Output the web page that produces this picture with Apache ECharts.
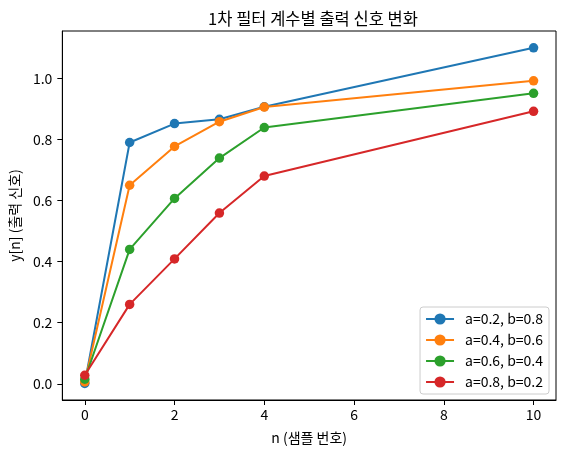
<!DOCTYPE html>
<html><head><meta charset="utf-8">
<script src="https://cdn.jsdelivr.net/npm/echarts@6/dist/echarts.min.js"></script>
<style>html,body{margin:0;padding:0;background:#fff}#c{width:565px;height:455px}</style>
</head><body><div id="c"></div>
<script>
const xs = [0, 1, 2, 3, 4, 10];
const seriesNames = ['a=0.2, b=0.8', 'a=0.4, b=0.6', 'a=0.6, b=0.4', 'a=0.8, b=0.2'];
const yA02 = [0.001, 0.790, 0.852, 0.866, 0.907, 1.100];
const yA04 = [0.006, 0.650, 0.777, 0.858, 0.906, 0.992];
const yA06 = [0.015, 0.440, 0.607, 0.739, 0.839, 0.951];
const yA08 = [0.028, 0.260, 0.409, 0.559, 0.680, 0.892];
const xTicks = [0, 2, 4, 6, 8, 10];
const yTicks = [0.0, 0.2, 0.4, 0.6, 0.8, 1.0];
const colors = ['#1f77b4', '#ff7f0e', '#2ca02c', '#d62728'];
const allY = [yA02, yA04, yA06, yA08];
const FONT = '"Noto Sans CJK KR", "Noto Sans", sans-serif';

const chart = echarts.init(document.getElementById('c'), null, {renderer: 'canvas'});
chart.setOption({
  animation: false,
  color: colors,
  textStyle: {fontFamily: FONT},
  title: {
    text: '1차 필터 계수별 출력 신호 변화',
    left: 308, top: 5, textAlign: 'center',
    textStyle: {fontFamily: FONT, fontSize: 16.5, fontWeight: 'normal', color: '#000'}
  },
  grid: {left: 60, top: 31, right: 9, bottom: 55, show: true, borderColor: '#000', borderWidth: 1, containLabel: false},
  legend: {
    orient: 'vertical', right: 16, bottom: 61,
    backgroundColor: 'rgba(255,255,255,0.8)', borderColor: '#cccccc', borderWidth: 1, borderRadius: 3,
    padding: [5, 6, 5, 5], itemWidth: 28, itemHeight: 14, itemGap: 7,
    textStyle: {fontFamily: FONT, fontSize: 14, color: '#000', padding: [0, 0, 0, 6]},
    data: seriesNames
  },
  xAxis: {
    type: 'value', min: -0.5, max: 10.5,
    name: 'n (샘플 번호)', nameLocation: 'middle', nameGap: 31,
    nameTextStyle: {fontFamily: FONT, fontSize: 14, color: '#000'},
    axisLine: {show: true, onZero: false, lineStyle: {color: '#000', width: 1}},
    axisTick: {show: true, inside: false, length: 5, customValues: xTicks, lineStyle: {color: '#000'}},
    axisLabel: {customValues: xTicks, margin: 8, fontFamily: FONT, fontSize: 14, color: '#000'},
    splitLine: {show: false}
  },
  yAxis: {
    type: 'value', min: -0.053, max: 1.155,
    name: 'y[n] (출력 신호)', nameLocation: 'middle', nameGap: 35,
    nameTextStyle: {fontFamily: FONT, fontSize: 14, color: '#000'},
    axisLine: {show: true, onZero: false, lineStyle: {color: '#000', width: 1}},
    axisTick: {show: true, inside: false, length: 5, customValues: yTicks, lineStyle: {color: '#000'}},
    axisLabel: {customValues: yTicks, margin: 10, fontFamily: FONT, fontSize: 14, color: '#000',
      formatter: v => Number(v).toFixed(1)},
    splitLine: {show: false}
  },
  series: seriesNames.map((n, i) => ({
    name: n, type: 'line',
    data: xs.map((x, j) => [x, allY[i][j]]),
    symbol: 'circle', symbolSize: 9.5,
    lineStyle: {width: 2, color: colors[i]},
    itemStyle: {color: colors[i]},
    z: 2 + i
  }))
});
</script></body></html>
